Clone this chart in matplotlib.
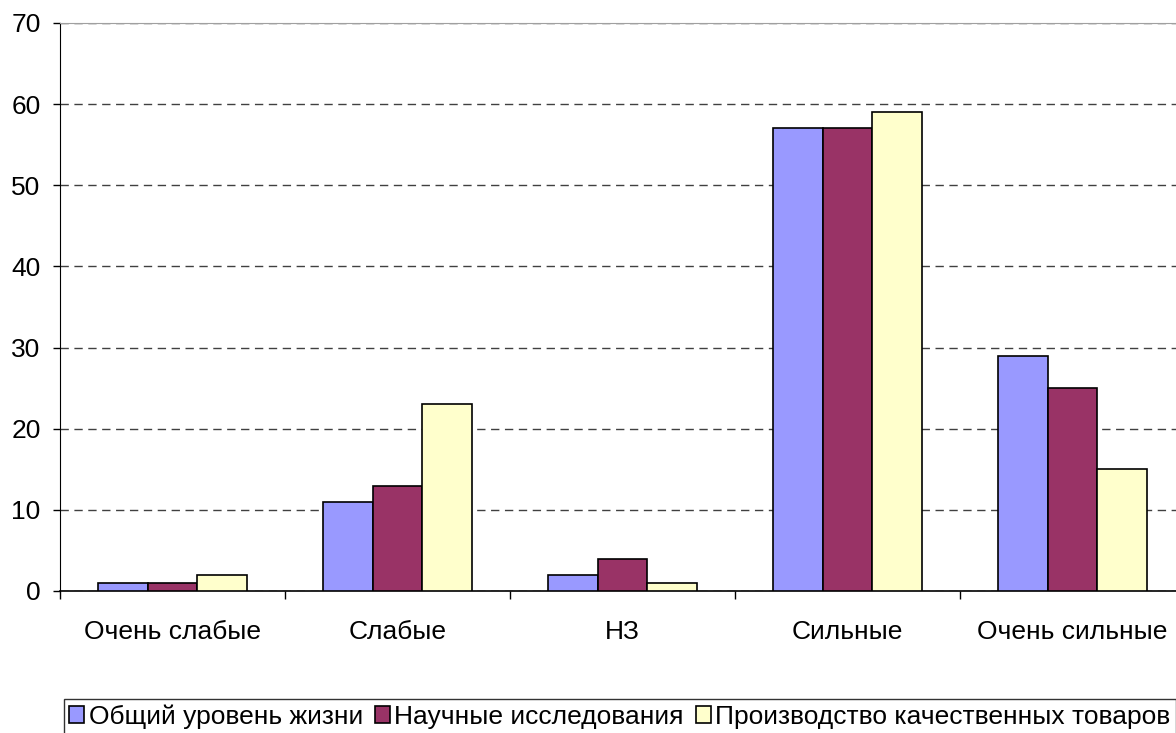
import numpy as np
import matplotlib.pyplot as plt

plt.rcParams['font.family'] = ['Liberation Sans', 'DejaVu Sans']

categories = ['Очень слабые', 'Слабые', 'НЗ', 'Сильные', 'Очень сильные']
series_names = ['Общий уровень жизни', 'Научные исследования',
                'Производство качественных товаров']
living = [1, 11, 2, 57, 29]
research = [1, 13, 4, 57, 25]
goods = [2, 23, 1, 59, 15]
colors = ['#9999FF', '#993366', '#FFFFCC']

W, H = 1176, 733
fig = plt.figure(figsize=(W / 100, H / 100), dpi=100)
# plot area runs past the right edge, as in the original
ax = fig.add_axes([60 / W, 1 - 591 / H, 1125 / W, (591 - 23) / H])

x = np.arange(len(categories))
width = 0.222
for i, (vals, name, c) in enumerate(zip([living, research, goods], series_names, colors)):
    ax.bar(x + (i - 1) * width, vals, width, color=c, edgecolor='black',
           linewidth=1.2, label=name, zorder=3)

ax.set_xlim(-0.5, len(categories) - 0.5)
ax.set_ylim(0, 70)
ax.set_yticks(range(0, 71, 10))
ax.yaxis.grid(True, linestyle=(0, (6, 4)), color='#404040', linewidth=1)
ax.set_axisbelow(True)

ax.set_xticks(x)
ax.set_xticklabels(categories)
ax.set_xticks(np.arange(-0.5, len(categories)), minor=True)
ax.tick_params(axis='x', which='major', length=0, pad=21, labelsize=19)
ax.tick_params(axis='x', which='minor', length=6, width=1, direction='out')
ax.tick_params(axis='y', length=5, width=1, direction='out', labelsize=19, pad=9)

ax.spines['right'].set_visible(False)
ax.spines['top'].set_color('#a0a0a0')
ax.spines['left'].set_color('black')
ax.spines['bottom'].set_linewidth(1.2)

leg = fig.legend(loc='upper left', bbox_to_anchor=(64 / W, 1 - 699 / H),
                 ncol=3, fontsize=19, frameon=True, fancybox=False,
                 borderpad=0.2, handlelength=0.57, handleheight=0.57,
                 handletextpad=0.17, columnspacing=0.45, borderaxespad=0)
leg.get_frame().set_edgecolor('black')
leg.get_frame().set_linewidth(1)

fig.savefig('out.png', dpi=100)
